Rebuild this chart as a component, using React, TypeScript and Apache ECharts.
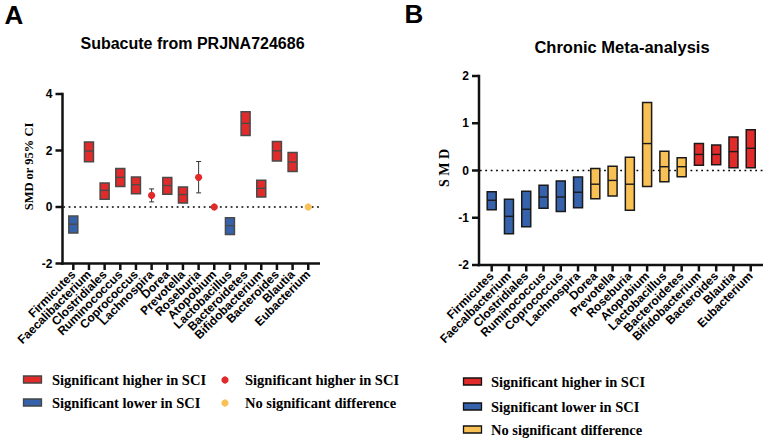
import React, { useEffect, useRef } from "react";
import * as echarts from "echarts";

// ---------- data ----------
const namesA = ["Firmicutes", "Faecalibacterium", "Clostridiales", "Ruminococcus", "Coprococcus", "Lachnospira", "Dorea", "Prevotella", "Roseburia", "Atopobium", "Lactobacillus", "Bacteroidetes", "Bifidobacterium", "Bacteroides", "Blautia", "Eubacterium"];
const namesB = ["Firmicutes", "Faecalbacterium", "Clostridiales", "Ruminococcus", "Coprococcus", "Lachnospira", "Dorea", "Prevotella", "Roseburia", "Atopobium", "Lactobacillus", "Bacteroidetes", "Bifidobacterium", "Bacteroides", "Blautia", "Eubacterium"];

// Panel A (Subacute)
const aLower = [-0.92, 1.60, 0.27, 0.73, 0.47, 0.18, 0.45, 0.14, 0.50, 0, -0.97, 2.53, 0.35, 1.63, 1.26, 0];
const aMean = [-0.61, 1.98, 0.59, 1.05, 0.79, 0.41, 0.76, 0.44, 1.05, 0, -0.66, 2.96, 0.66, 1.99, 1.59, 0];
const aUpper = [-0.32, 2.30, 0.85, 1.36, 1.06, 0.64, 1.04, 0.71, 1.61, 0, -0.38, 3.37, 0.95, 2.32, 1.93, 0];
const aKind = ["lowBox", "highBox", "highBox", "highBox", "highBox", "highDot", "highBox", "highBox", "highDot", "highDot", "lowBox", "highBox", "highBox", "highBox", "highBox", "nsDot"];

// Panel B (Chronic)
const bLower = [-0.83, -1.34, -1.19, -0.80, -0.87, -0.79, -0.60, -0.54, -0.84, -0.34, -0.24, -0.13, 0.11, 0.12, 0.06, 0.06];
const bMean = [-0.63, -0.97, -0.82, -0.56, -0.56, -0.46, -0.29, -0.21, -0.29, 0.57, 0.08, 0.08, 0.34, 0.34, 0.40, 0.47];
const bUpper = [-0.45, -0.61, -0.44, -0.31, -0.22, -0.14, 0.04, 0.09, 0.28, 1.44, 0.41, 0.27, 0.57, 0.54, 0.71, 0.86];
const bKind = ["lowBox", "lowBox", "lowBox", "lowBox", "lowBox", "lowBox", "nsBox", "nsBox", "nsBox", "nsBox", "nsBox", "nsBox", "highBox", "highBox", "highBox", "highBox"];

const yTicksA = [-2, 0, 2, 4];
const yTicksB = [-2, -1, 0, 1, 2];

// ---------- styles ----------
const RED = "#e12a2a";
const BLUE = "#3562aa";
const ORANGE = "#f8c055";
const AXIS = "#111111";
const SANS = "Liberation Sans, Arial, sans-serif";
const SERIF = "Liberation Serif, Times New Roman, serif";
const AXW = 2.5;

const kindCode: Record<string, number> = { highBox: 0, lowBox: 1, nsBox: 2, highDot: 3, nsDot: 4 };
const kindColor = [RED, BLUE, ORANGE, RED, ORANGE];

function buildData(lo: number[], mid: number[], hi: number[], kind: string[]) {
  return lo.map((v, i) => [i, v, mid[i], hi[i], kindCode[kind[i]]]);
}

function makeRender(stroke: string) {
  return (params: any, api: any) => {
    const i = api.value(0);
    const lo = api.coord([i, api.value(1)]);
    const mid = api.coord([i, api.value(2)]);
    const hi = api.coord([i, api.value(3)]);
    const k = api.value(4) as number;
    const cx = lo[0];
    const color = kindColor[k];
    const children: any[] = [];
    if (k <= 2) {
      const w = 9;
      children.push({
        type: "rect",
        shape: { x: cx - w / 2, y: hi[1], width: w, height: lo[1] - hi[1] },
        style: { fill: color, stroke, lineWidth: 1.5 },
      });
      children.push({
        type: "line",
        shape: { x1: cx - w / 2, y1: mid[1], x2: cx + w / 2, y2: mid[1] },
        style: { stroke, lineWidth: 1.4 },
      });
    } else {
      if (Math.abs(lo[1] - hi[1]) > 1) {
        children.push({ type: "line", shape: { x1: cx, y1: hi[1], x2: cx, y2: lo[1] }, style: { stroke: "#333", lineWidth: 1 } });
        children.push({ type: "line", shape: { x1: cx - 2.5, y1: hi[1], x2: cx + 2.5, y2: hi[1] }, style: { stroke: "#333", lineWidth: 1 } });
        children.push({ type: "line", shape: { x1: cx - 2.5, y1: lo[1], x2: cx + 2.5, y2: lo[1] }, style: { stroke: "#333", lineWidth: 1 } });
      }
      children.push({ type: "circle", shape: { cx, cy: mid[1], r: 3.6 }, style: { fill: color } });
    }
    return { type: "group", children };
  };
}

const evenIdx = namesA.map((_, i) => i).filter((i) => i % 2 === 0);
const oddIdx = namesA.map((_, i) => i).filter((i) => i % 2 === 1);

function xAxis(gridIndex: number, names: string[], min: number, max: number, idx: number[]) {
  return {
    type: "value",
    gridIndex,
    min,
    max,
    position: "bottom",
    offset: 0,
    axisLine: { show: false, onZero: false },
    axisTick: { show: false },
    axisLabel: {
      show: true,
      customValues: idx.slice(),
      rotate: 45,
      margin: 9,
      color: "#000",
      fontFamily: SANS,
      fontWeight: "bold",
      fontSize: 12,
      showMinLabel: true,
      showMaxLabel: true,
      formatter: (v: number) => names[Math.round(v)] ?? "",
    },
    splitLine: { show: false },
  };
}

function yAxis(gridIndex: number, ticks: number[]) {
  return {
    type: "value",
    gridIndex,
    min: ticks[0],
    max: ticks[ticks.length - 1],
    interval: ticks[1] - ticks[0],
    position: "left",
    axisLine: { show: false, onZero: false },
    axisTick: { show: false },
    axisLabel: { color: "#000", fontFamily: SANS, fontWeight: "bold", fontSize: 12, margin: 10 },
    splitLine: { show: false },
  };
}

function txt(text: string, x: number, y: number, font: string, align = "center", rotation = 0) {
  return {
    type: "text",
    x,
    y,
    rotation,
    style: {
      text,
      x: 0,
      y: 0,
      font,
      fill: "#000",
      align,
      textAlign: align,
      verticalAlign: "middle",
      textVerticalAlign: "middle",
    },
  };
}

function legRect(x: number, y: number, fill: string, stroke: string) {
  return { type: "rect", shape: { x, y: y - 3.5, width: 18, height: 7 }, style: { fill, stroke, lineWidth: 1.3 } };
}

// axis lines + ticks as graphic rects, positioned with the chart's own conversion
function axisGraphics(chart: any, gridIndex: number, xMin: number, xMax: number, yTicks: number[], nCat: number) {
  const f = (x: number, y: number) => chart.convertToPixel({ gridIndex }, [x, y]) as number[];
  const yMin = yTicks[0];
  const yMax = yTicks[yTicks.length - 1];
  const o = f(xMin, yMin);
  const top = f(xMin, yMax);
  const right = f(xMax, yMin);
  const h = AXW / 2;
  const out: any[] = [];
  const bar = (x: number, y: number, width: number, height: number) =>
    out.push({ type: "rect", z: 10, shape: { x, y, width, height }, style: { fill: AXIS } });
  if (!o || isNaN(o[0]) || isNaN(o[1])) return out;
  bar(o[0] - h, top[1] - h, AXW, o[1] - top[1] + AXW);
  bar(o[0] - h, o[1] - h, right[0] - o[0] + h, AXW);
  yTicks.forEach((v) => {
    const p = f(xMin, v);
    bar(p[0] - 7, p[1] - h, 7, AXW);
  });
  for (let i = 0; i < nCat; i++) {
    const p = f(i, yMin);
    bar(p[0] - h, p[1], AXW, 6.5);
  }
  return out;
}

export default function App() {
  const ref = useRef<HTMLDivElement>(null);
  useEffect(() => {
    if (!ref.current) return;
    const chart = echarts.init(ref.current, undefined, { renderer: "svg" });
    const axMinA = -0.69, axMaxA = 15.75;
    const axMinB = -0.735, axMaxB = 15.71;
    const legFont = `bold 14.5px ${SERIF}`;
    chart.setOption({
      animation: false,
      grid: [
        { left: 62.5, top: 94, width: 257.5, height: 169.5 },
        { left: 479, top: 76, width: 284, height: 189 },
      ],
      xAxis: [
        xAxis(0, namesA, axMinA, axMaxA, evenIdx),
        xAxis(1, namesB, axMinB, axMaxB, evenIdx),
        xAxis(0, namesA, axMinA, axMaxA, oddIdx),
        xAxis(1, namesB, axMinB, axMaxB, oddIdx),
      ],
      yAxis: [yAxis(0, yTicksA), yAxis(1, yTicksB)],
      series: [
        {
          type: "line",
          xAxisIndex: 0,
          yAxisIndex: 0,
          data: [[axMinA + 0.05, 0], [axMaxA, 0]],
          symbol: "none",
          z: 1,
          lineStyle: { color: "#000", width: 1.6, type: [1.8, 3.6] },
          silent: true,
        },
        {
          type: "line",
          xAxisIndex: 1,
          yAxisIndex: 1,
          data: [[axMinB + 0.05, 0], [axMaxB, 0]],
          symbol: "none",
          z: 1,
          lineStyle: { color: "#000", width: 1.6, type: [1.8, 3.6] },
          silent: true,
        },
        {
          type: "custom",
          xAxisIndex: 0,
          yAxisIndex: 0,
          z: 5,
          renderItem: makeRender("#4a4a4a"),
          data: buildData(aLower, aMean, aUpper, aKind),
        },
        {
          type: "custom",
          xAxisIndex: 1,
          yAxisIndex: 1,
          z: 5,
          renderItem: makeRender("#1a1a1a"),
          data: buildData(bLower, bMean, bUpper, bKind),
        },
      ],
    });
    const axesG = [
      ...axisGraphics(chart, 0, axMinA, axMaxA, yTicksA, namesA.length),
      ...axisGraphics(chart, 1, axMinB, axMaxB, yTicksB, namesB.length),
    ];
    chart.setOption({
      graphic: [
        ...axesG,
        txt("A", 14, 15, `bold 26px ${SANS}`),
        txt("B", 414, 14, `bold 26px ${SANS}`),
        txt("Subacute from PRJNA724686", 192.5, 43, `bold 16px ${SANS}`),
        txt("Chronic Meta-analysis", 622, 47, `bold 16.5px ${SANS}`),
        txt("SMD or 95% CI", 28.5, 166.5, `bold 12.5px ${SERIF}`, "center", Math.PI / 2),
        txt("S M D", 444, 168, `bold 14px ${SERIF}`, "center", Math.PI / 2),
        // legend A
        legRect(23.5, 379.5, RED, "#444"),
        txt("Significant higher in SCI", 52, 380, legFont, "left"),
        legRect(23.5, 402.5, BLUE, "#444"),
        txt("Significant lower in SCI", 52, 403, legFont, "left"),
        { type: "circle", shape: { cx: 225, cy: 380, r: 3.6 }, style: { fill: RED } },
        txt("Significant higher in SCI", 245, 380, legFont, "left"),
        { type: "circle", shape: { cx: 225, cy: 403, r: 3.6 }, style: { fill: ORANGE } },
        txt("No significant difference", 245, 403, legFont, "left"),
        // legend B
        legRect(463.5, 381.5, RED, "#111"),
        txt("Significant higher in SCI", 491, 382, legFont, "left"),
        legRect(463.5, 406.5, BLUE, "#111"),
        txt("Significant lower in SCI", 491, 407, legFont, "left"),
        legRect(463.5, 429.5, ORANGE, "#111"),
        txt("No significant difference", 491, 429.5, legFont, "left"),
      ],
    });
    return () => chart.dispose();
  }, []);
  return <div ref={ref} style={{ position: "fixed", left: 0, top: 0, width: 767, height: 440, background: "#fff" }} />;
}
